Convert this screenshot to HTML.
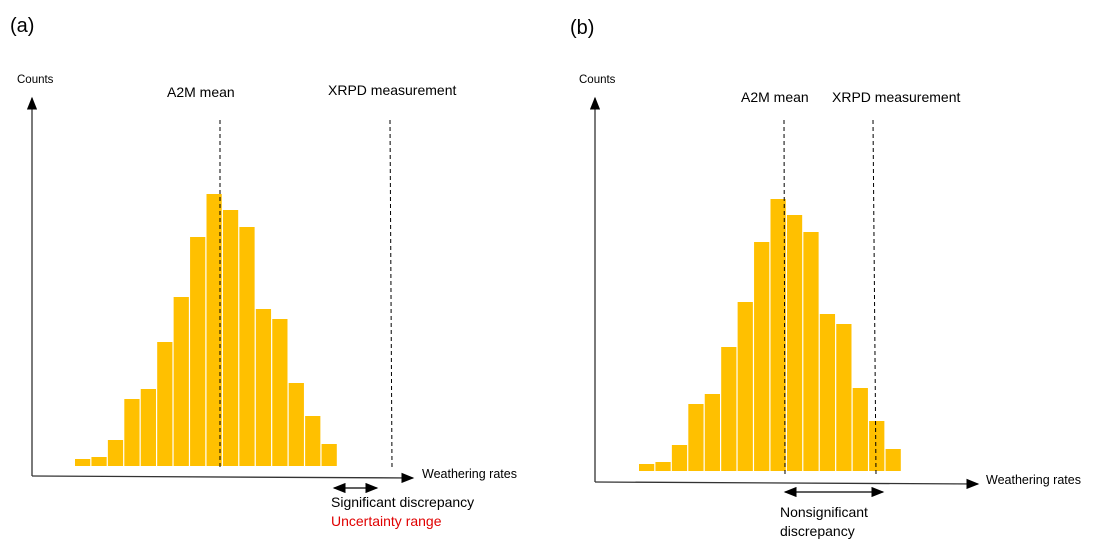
<!DOCTYPE html>
<html><head><meta charset="utf-8"><style>
body{margin:0;background:#fff}
svg{display:block;font-family:"Liberation Sans",sans-serif}
</style></head><body>
<svg id="c" width="1093" height="551" viewBox="0 0 1093 551">
<defs><marker id="ah" markerWidth="10" markerHeight="8" refX="9" refY="4" orient="auto-start-reverse"><path d="M0,0 L10,4 L0,8 z" fill="#000"/></marker></defs>
<text x="10" y="32" font-size="20">(a)</text>
<text x="570" y="34" font-size="20">(b)</text>
<g id="pa">
<line x1="32" y1="476" x2="32" y2="98" stroke="#333" stroke-width="1.3" marker-end="url(#ah)"/>
<line x1="32" y1="476" x2="413" y2="478" stroke="#333" stroke-width="1.3" marker-end="url(#ah)"/>
<text x="17" y="83" font-size="11.5">Counts</text>
<text x="422" y="478" font-size="12.5">Weathering rates</text>
<text x="167" y="97" font-size="14">A2M mean</text>
<text x="328" y="95" font-size="14">XRPD measurement</text>
<line x1="220" y1="120" x2="220" y2="468" stroke="#000" stroke-dasharray="4,3"/>
<line x1="390" y1="120" x2="392" y2="468" stroke="#000" stroke-dasharray="4,3"/>
<line x1="334" y1="488" x2="377" y2="488" stroke="#000" stroke-width="1.3" marker-start="url(#ah)" marker-end="url(#ah)"/>
<text x="331" y="507" font-size="14">Significant discrepancy</text>
<text x="331" y="526" font-size="14" fill="#e00000">Uncertainty range</text>
</g>
<g id="pb">
<line x1="595" y1="482" x2="595" y2="98" stroke="#333" stroke-width="1.3" marker-end="url(#ah)"/>
<line x1="595" y1="482" x2="978" y2="484" stroke="#333" stroke-width="1.3" marker-end="url(#ah)"/>
<text x="579" y="83" font-size="11.5">Counts</text>
<text x="986" y="484" font-size="12.5">Weathering rates</text>
<text x="741" y="102" font-size="14">A2M mean</text>
<text x="832" y="102" font-size="14">XRPD measurement</text>
<line x1="784" y1="120" x2="785" y2="475" stroke="#000" stroke-dasharray="4,3"/>
<line x1="873" y1="120" x2="876" y2="475" stroke="#000" stroke-dasharray="4,3"/>
<line x1="785" y1="492" x2="883" y2="492" stroke="#000" stroke-width="1.3" marker-start="url(#ah)" marker-end="url(#ah)"/>
<text x="780" y="517" font-size="14">Nonsignificant</text>
<text x="780" y="536" font-size="14">discrepancy</text>
</g>
</svg>
<script>
const bins=[1,2,3,4,5,6,7,8,9,10,11,12,13,14,15,16];
const countsA=[7,9,26,67,77,124,169,229,272,256,239,157,147,83,50,22];
const countsB=[7,9,26,67,77,124,169,229,272,256,239,157,147,83,50,22];
const NS="http://www.w3.org/2000/svg";
function draw(gid,counts,x0,x1,base){
  const g=document.getElementById(gid);
  const w=(x1-x0)/bins.length;
  const xs=i=>x0+i*w;
  const ys=v=>base-v;
  bins.forEach((b,i)=>{
    const r=document.createElementNS(NS,"rect");
    r.setAttribute("x",xs(i));
    r.setAttribute("y",ys(counts[i]));
    r.setAttribute("width",w-1.2);
    r.setAttribute("height",base-ys(counts[i]));
    r.setAttribute("fill","#ffc000");
    
    
    g.insertBefore(r,g.firstChild);
  });
}
draw("pa",countsA,75,338,466);
draw("pb",countsB,639,902,471);
</script>
</body></html>
